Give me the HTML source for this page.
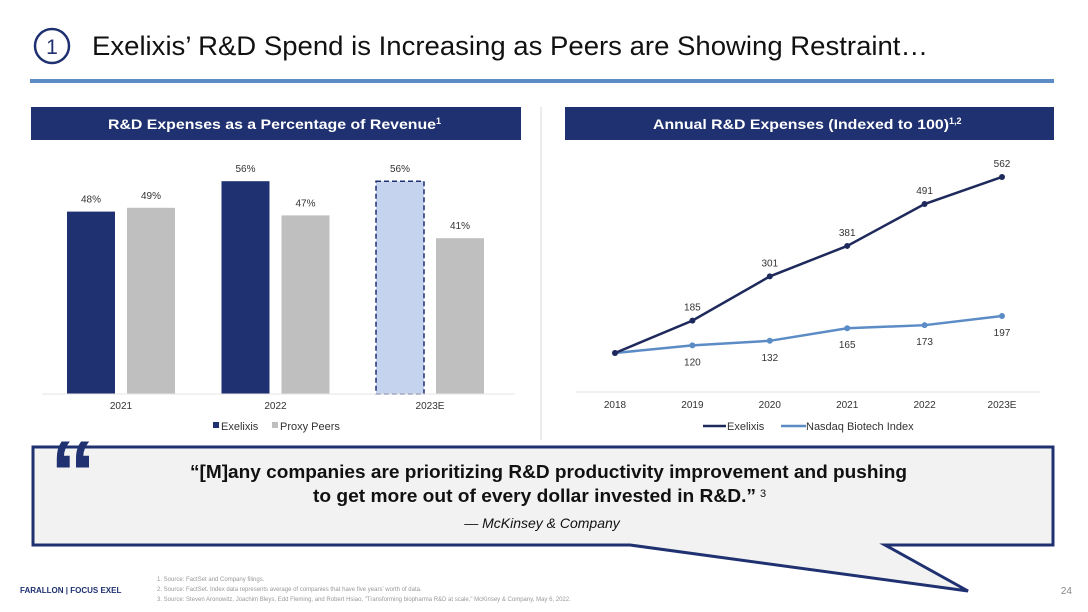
<!DOCTYPE html>
<html><head><meta charset="utf-8"><style>
body{margin:0;width:1088px;height:612px;overflow:hidden;background:#fff;font-family:"Liberation Sans",Arial,sans-serif;}
svg{display:block}
</style></head><body>
<svg width="1088" height="612" viewBox="0 0 1088 612" xmlns="http://www.w3.org/2000/svg" font-family="Liberation Sans, Arial, sans-serif">
<g>
<circle cx="52" cy="46" r="17" fill="none" stroke="#1f3170" stroke-width="2.5"/>
<text x="52" y="54" font-size="21" text-anchor="middle" fill="#1f3170">1</text>
<text x="92" y="55" font-size="27" fill="#111" textLength="836" lengthAdjust="spacingAndGlyphs">Exelixis’ R&amp;D Spend is Increasing as Peers are Showing Restraint…</text>
<rect x="30" y="79" width="1024" height="4" fill="#5b8cc6"/>
</g>
<rect x="31" y="107" width="490" height="33" fill="#1f3170"/>
<text x="108" y="129" font-size="14" font-weight="bold" fill="#fff"><tspan textLength="328" lengthAdjust="spacingAndGlyphs">R&amp;D Expenses as a Percentage of Revenue</tspan><tspan font-size="9" dy="-5">1</tspan></text>
<rect x="565" y="107" width="489" height="33" fill="#1f3170"/>
<text x="653" y="129" font-size="14" font-weight="bold" fill="#fff"><tspan textLength="296" lengthAdjust="spacingAndGlyphs">Annual R&amp;D Expenses (Indexed to 100)</tspan><tspan font-size="9" dy="-5">1,2</tspan></text>
<line x1="541" y1="107" x2="541" y2="440" stroke="#d9d9d9" stroke-width="1"/>
<g id="bars"></g>
<g id="lines"></g>
<g>
<path d="M33,447 L1053,447 L1053,545 L885,545 L968,591 L630,545 L33,545 Z" fill="#f2f2f2" stroke="#1f3170" stroke-width="3" stroke-linejoin="miter"/>
<text x="50" y="505" font-size="92" font-weight="bold" fill="#1f3170">“</text>
<text x="190" y="478" font-size="18" font-weight="bold" fill="#111" textLength="717" lengthAdjust="spacingAndGlyphs">“[M]any companies are prioritizing R&amp;D productivity improvement and pushing</text>
<text x="313" y="502" font-size="18" font-weight="bold" fill="#111"><tspan textLength="443" lengthAdjust="spacingAndGlyphs">to get more out of every dollar invested in R&amp;D.”</tspan><tspan font-size="11" font-weight="normal" dx="4" dy="-5">3</tspan></text>
<text x="542" y="528" font-size="14" font-style="italic" fill="#111" text-anchor="middle">— McKinsey &amp; Company</text>
</g>
<g>
<text x="20" y="593" font-size="8" font-weight="bold" fill="#1f3170">FARALLON  |  FOCUS EXEL</text>
<g font-size="6" fill="#999">
<text x="157" y="581">1.      Source: FactSet and Company filings.</text>
<text x="157" y="591">2.      Source: FactSet. Index data represents average of companies that have five years' worth of data.</text>
<text x="157" y="601">3.      Source: Steven Aronowitz, Joachim Bleys, Edd Fleming, and Robert Hsiao, "Transforming biopharma R&amp;D at scale," McKinsey &amp; Company, May 6, 2022.</text>
</g>
<text x="1072" y="594" font-size="10" fill="#888" text-anchor="end">24</text>
</g>
</svg>
<script>
const barCategories=["2021","2022","2023E"];
const exelixisPct=[48,56,56];
const peersPct=[49,47,41];
const lineCategories=["2018","2019","2020","2021","2022","2023E"];
const exelixisIdx=[100,185,301,381,491,562];
const nasdaqIdx=[100,120,132,165,173,197];
const NS="http://www.w3.org/2000/svg";
function mk(p,tag,a,t){const e=document.createElementNS(NS,tag);for(const k in a)e.setAttribute(k,a[k]);if(t!==undefined)e.textContent=t;p.appendChild(e);return e;}
const bg=document.getElementById('bars');
const base=394,pxPer=3.8;
const bY=v=>base-v*pxPer;
const bX=i=>121+i*154.5;
barCategories.forEach((c,i)=>{
  const cx=bX(i);
  const ex=exelixisPct[i],pe=peersPct[i];
  const est=i===2;
  const r1=mk(bg,'rect',{x:cx-54,y:bY(ex),width:48,height:base-bY(ex),fill:est?'#c5d3ef':'#1f3170',stroke:est?'#1f3170':'none','stroke-width':est?1.5:0,'stroke-dasharray':est?'5,3':''});
  
  
  const r2=mk(bg,'rect',{x:cx+6,y:bY(pe),width:48,height:base-bY(pe),fill:'#bfbfbf'});
  
  
  const l1=mk(bg,'text',{x:cx-30,y:bY(ex)-9,'font-size':10,'text-anchor':'middle',fill:'#333'},ex+'%');
  
  
  const l2=mk(bg,'text',{x:cx+30,y:bY(pe)-9,'font-size':10,'text-anchor':'middle',fill:'#333'},pe+'%');
  
  
  const xl=mk(bg,'text',{x:cx,y:409,'font-size':10,'text-anchor':'middle',fill:'#333'},c);
  
  
});
const bl=mk(bg,'line',{x1:42,y1:base,x2:515,y2:base,stroke:'#e5e5e5'});


const lg1=mk(bg,'rect',{x:213,y:422,width:6,height:6,fill:'#1f3170'});


const lt1=mk(bg,'text',{x:221,y:430,'font-size':11,fill:'#333'},'Exelixis');


const lg2=mk(bg,'rect',{x:272,y:422,width:6,height:6,fill:'#bfbfbf'});


const lt2=mk(bg,'text',{x:280,y:430,'font-size':11,fill:'#333'},'Proxy Peers');


const lg=document.getElementById('lines');
const lX=i=>615+i*77.4;
const lY=v=>353-(v-100)*0.381;
const ax=mk(lg,'line',{x1:576,y1:392,x2:1040,y2:392,stroke:'#e5e5e5'});


function series(vals,color,name,above){
  const p=mk(lg,'polyline',{points:vals.map((v,i)=>lX(i)+','+lY(v)).join(' '),fill:'none',stroke:color,'stroke-width':2.5});
  
  
  vals.forEach((v,i)=>{
    const c=mk(lg,'circle',{cx:lX(i),cy:lY(v),r:3,fill:color});
    
    
    if(i>0){
      const t=mk(lg,'text',{x:lX(i),y:above?lY(v)-10:lY(v)+20,'font-size':10,'text-anchor':'middle',fill:'#333'},v);
      
      
    }
  });
}
series(nasdaqIdx,'#5b8cc6','nasdaq',false);
series(exelixisIdx,'#1f2a5c','exelixis',true);
lineCategories.forEach((c,i)=>{
  const t=mk(lg,'text',{x:lX(i),y:408,'font-size':10,'text-anchor':'middle',fill:'#333'},c);
  
  
});
const s1=mk(lg,'line',{x1:703,y1:426,x2:726,y2:426,stroke:'#1f2a5c','stroke-width':2.5});


const t1=mk(lg,'text',{x:727,y:430,'font-size':11,fill:'#333'},'Exelixis');


const s2=mk(lg,'line',{x1:781,y1:426,x2:806,y2:426,stroke:'#5b8cc6','stroke-width':2.5});


const t2=mk(lg,'text',{x:806,y:430,'font-size':11,fill:'#333'},'Nasdaq Biotech Index');


</script>
</body></html>
